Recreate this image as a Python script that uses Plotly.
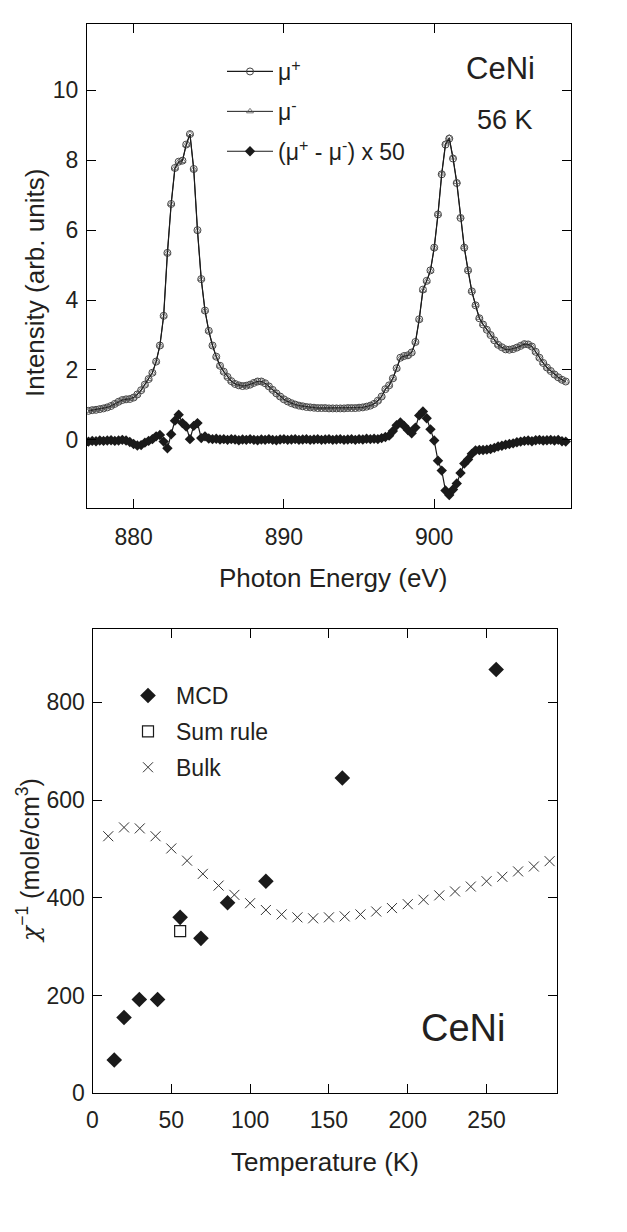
import plotly.graph_objects as go

# ---------------- Top panel data (CeNi XMCD, 56 K) ----------------
energy_ev = [
    877.00, 877.25, 877.50, 877.75, 878.00, 878.25, 878.50, 878.75,
    879.00, 879.25, 879.50, 879.75, 880.00, 880.25, 880.50, 880.75,
    881.00, 881.25, 881.50, 881.75, 882.00, 882.25, 882.50, 882.75,
    883.00, 883.25, 883.50, 883.75, 884.00, 884.25, 884.50, 884.75,
    885.00, 885.25, 885.50, 885.75, 886.00, 886.25, 886.50, 886.75,
    887.00, 887.25, 887.50, 887.75, 888.00, 888.25, 888.50, 888.75,
    889.00, 889.25, 889.50, 889.75, 890.00, 890.25, 890.50, 890.75,
    891.00, 891.25, 891.50, 891.75, 892.00, 892.25, 892.50, 892.75,
    893.00, 893.25, 893.50, 893.75, 894.00, 894.25, 894.50, 894.75,
    895.00, 895.25, 895.50, 895.75, 896.00, 896.25, 896.50, 896.75,
    897.00, 897.25, 897.50, 897.75, 898.00, 898.25, 898.50, 898.75,
    899.00, 899.25, 899.50, 899.75, 900.00, 900.25, 900.50, 900.75,
    901.00, 901.25, 901.50, 901.75, 902.00, 902.25, 902.50, 902.75,
    903.00, 903.25, 903.50, 903.75, 904.00, 904.25, 904.50, 904.75,
    905.00, 905.25, 905.50, 905.75, 906.00, 906.25, 906.50, 906.75,
    907.00, 907.25, 907.50, 907.75, 908.00, 908.25, 908.50, 908.75,
]

mu_plus = [
    0.83, 0.85, 0.86, 0.88, 0.90, 0.93, 0.97, 1.03,
    1.09, 1.14, 1.16, 1.17, 1.21, 1.30, 1.42, 1.58,
    1.74, 1.92, 2.24, 2.70, 3.55, 5.35, 6.75, 7.78,
    7.96, 7.99, 8.45, 8.75, 7.75, 6.00, 4.60, 3.70,
    3.12, 2.70, 2.38, 2.12, 1.95, 1.80, 1.68, 1.60,
    1.56, 1.54, 1.55, 1.58, 1.63, 1.67, 1.67, 1.62,
    1.53, 1.43, 1.33, 1.24, 1.16, 1.10, 1.05, 1.01,
    0.98, 0.96, 0.94, 0.93, 0.92, 0.91, 0.91, 0.91,
    0.90, 0.90, 0.90, 0.90, 0.90, 0.91, 0.91, 0.91,
    0.92, 0.93, 0.95, 0.98, 1.03, 1.12, 1.24, 1.45,
    1.56, 1.76, 2.05, 2.35, 2.40, 2.42, 2.50, 2.80,
    3.45, 4.30, 4.55, 4.85, 5.50, 6.45, 7.60, 8.45,
    8.62, 8.05, 7.35, 6.35, 5.50, 4.85, 4.25, 3.85,
    3.48, 3.30, 3.15, 3.00, 2.85, 2.72, 2.65, 2.59,
    2.58, 2.60, 2.64, 2.69, 2.74, 2.73, 2.67, 2.52,
    2.35, 2.20, 2.07, 1.97, 1.87, 1.79, 1.72, 1.67,
]

mu_minus = [
    0.83, 0.85, 0.86, 0.88, 0.90, 0.93, 0.97, 1.03,
    1.09, 1.14, 1.16, 1.17, 1.21, 1.30, 1.42, 1.58,
    1.74, 1.92, 2.24, 2.70, 3.55, 5.35, 6.75, 7.77,
    7.95, 7.98, 8.44, 8.75, 7.74, 5.99, 4.60, 3.70,
    3.12, 2.70, 2.38, 2.12, 1.95, 1.80, 1.68, 1.60,
    1.56, 1.54, 1.55, 1.58, 1.63, 1.67, 1.67, 1.62,
    1.53, 1.43, 1.33, 1.24, 1.16, 1.10, 1.05, 1.01,
    0.98, 0.96, 0.94, 0.93, 0.92, 0.91, 0.91, 0.91,
    0.90, 0.90, 0.90, 0.90, 0.90, 0.91, 0.91, 0.91,
    0.92, 0.93, 0.95, 0.98, 1.03, 1.12, 1.24, 1.45,
    1.56, 1.76, 2.04, 2.34, 2.39, 2.41, 2.50, 2.79,
    3.44, 4.28, 4.54, 4.84, 5.50, 6.46, 7.62, 8.48,
    8.65, 8.08, 7.38, 6.37, 5.51, 4.86, 4.26, 3.86,
    3.49, 3.31, 3.16, 3.01, 2.85, 2.72, 2.65, 2.59,
    2.58, 2.60, 2.64, 2.69, 2.74, 2.73, 2.67, 2.52,
    2.35, 2.20, 2.07, 1.97, 1.87, 1.79, 1.72, 1.67,
]

mcd_x50 = [
    -0.05, -0.03, -0.04, -0.02, -0.03, -0.02, -0.01, -0.03,
    -0.02, 0.00, -0.02, -0.06, -0.12, -0.16, -0.15, -0.08,
    -0.03, 0.02, 0.10, 0.14, -0.05, -0.24, 0.16, 0.55,
    0.72, 0.48, 0.38, 0.02, 0.40, 0.48, 0.05, 0.10,
    0.04, 0.02, 0.03, 0.01, 0.02, 0.00, 0.02, 0.01,
    -0.01, 0.01, 0.00, 0.02, 0.00, -0.01, 0.01, 0.00,
    0.02, 0.00, -0.01, 0.01, 0.02, 0.00, 0.01, 0.02,
    0.00, 0.01, 0.02, 0.00, 0.01, 0.02, 0.00, 0.01,
    0.02, 0.00, 0.01, 0.02, 0.00, 0.01, 0.02, 0.00,
    0.02, 0.01, 0.03, 0.02, 0.03, 0.02, 0.05, 0.08,
    0.12, 0.25, 0.42, 0.50, 0.40, 0.28, 0.19, 0.35,
    0.70, 0.81, 0.62, 0.30, -0.02, -0.60, -0.88, -1.45,
    -1.58, -1.42, -1.25, -0.95, -0.68, -0.56, -0.40, -0.30,
    -0.29, -0.29, -0.28, -0.26, -0.23, -0.19, -0.17, -0.14,
    -0.12, -0.10, -0.07, -0.05, -0.03, -0.02, -0.04, -0.01,
    0.00, -0.02, -0.01, 0.00, -0.02, 0.00, -0.04, -0.05,
]

# ---------------- Bottom panel data (inverse susceptibility) ----------------
mcd_temp = [13.8, 20.0, 29.7, 41.3, 55.6, 68.8, 85.7, 110.0, 158.5, 256.1]
mcd_chi_inv = [68, 155, 192, 192, 360, 317, 390, 434, 645, 867]

sum_rule_temp = [55.6]
sum_rule_chi_inv = [332]

bulk_temp = [10, 20, 30, 40, 50, 60, 70, 80, 90, 100, 110, 120, 130, 140, 150,
             160, 170, 180, 190, 200, 210, 220, 230, 240, 250, 260, 270, 280, 290]
bulk_chi_inv = [526, 544, 542, 526, 501, 476, 449, 425, 406, 389, 375, 366, 360, 358, 360,
                362, 366, 372, 379, 387, 396, 405, 413, 423, 434, 443, 454, 464, 475]

top_xticks = [880, 890, 900]
top_yticks = [0, 2, 4, 6, 8, 10]
bot_xticks = [0, 50, 100, 150, 200, 250]
bot_yticks = [0, 200, 400, 600, 800]

# ---------------- Figure ----------------
# the page body has an 8 px margin, so the figure is drawn 8 px in from the corner
OFF = 8
W, H = 627 - OFF, 1232 - OFF
FONT = "Liberation Sans, Arial, Helvetica, sans-serif"
TXT = "#231f20"

fig = go.Figure()

fig.add_trace(go.Scatter(
    x=energy_ev, y=mu_plus, mode="lines+markers", name="μ<sup>+</sup>",
    line=dict(color="#1a1a1a", width=1.2),
    marker=dict(symbol="circle-open", size=7, color="#444", line=dict(width=1)),
    xaxis="x", yaxis="y", legend="legend", legendgroup="a"))
fig.add_trace(go.Scatter(
    x=energy_ev, y=mu_minus, mode="lines+markers", name="μ<sup>-</sup>",
    line=dict(color="#1a1a1a", width=1.0),
    marker=dict(symbol="triangle-up-open", size=6, color="#555", line=dict(width=0.8)),
    xaxis="x", yaxis="y", legend="legend", legendgroup="b"))
fig.add_trace(go.Scatter(
    x=energy_ev, y=mcd_x50, mode="lines+markers", name="(μ<sup>+</sup> - μ<sup>-</sup>) x 50",
    line=dict(color="#1a1a1a", width=1.2),
    marker=dict(symbol="diamond", size=8, color="#1a1a1a"),
    xaxis="x", yaxis="y", legend="legend", legendgroup="c"))

fig.add_trace(go.Scatter(
    x=mcd_temp, y=mcd_chi_inv, mode="markers", name="MCD",
    marker=dict(symbol="diamond", size=12, color="#1a1a1a"),
    xaxis="x2", yaxis="y2", legend="legend2", legendgroup="d"))
fig.add_trace(go.Scatter(
    x=sum_rule_temp, y=sum_rule_chi_inv, mode="markers", name="Sum rule",
    marker=dict(symbol="square-open", size=11, color="#1a1a1a", line=dict(width=1.2)),
    xaxis="x2", yaxis="y2", legend="legend2", legendgroup="e"))
fig.add_trace(go.Scatter(
    x=bulk_temp, y=bulk_chi_inv, mode="markers", name="Bulk",
    marker=dict(symbol="x-thin", size=10, color="#333", line=dict(width=1, color="#333")),
    xaxis="x2", yaxis="y2", legend="legend2", legendgroup="f"))

axis_common = dict(
    showline=True, linecolor="black", linewidth=1.3, mirror="ticks",
    ticks="inside", ticklen=9, tickwidth=1.2, tickcolor="black",
    showgrid=False, zeroline=False, automargin=False,
    tickfont=dict(family=FONT, size=23, color=TXT),
)

def px_x(p):
    return (p - OFF) / W

def px_y(p):
    return 1 - (p - OFF) / H

fig.update_layout(
    width=W, height=H,
    margin=dict(l=0, r=0, t=0, b=0),
    paper_bgcolor="white", plot_bgcolor="white",
    font=dict(family=FONT, color=TXT),
    xaxis=dict(axis_common, domain=[px_x(87), px_x(571)], range=[876.9, 909.1],
               tickvals=top_xticks, anchor="y", ticklabelstandoff=8),
    yaxis=dict(axis_common, domain=[px_y(508), px_y(24)], range=[-1.95, 11.9],
               tickvals=top_yticks, anchor="x", ticklabelstandoff=3),
    xaxis2=dict(axis_common, domain=[px_x(92.5), px_x(556.7)], range=[0, 294.5],
                tickvals=bot_xticks, anchor="y2", ticklabelstandoff=6),
    yaxis2=dict(axis_common, domain=[px_y(1093.3), px_y(629)], range=[0, 950],
                tickvals=bot_yticks, anchor="x2", ticklabelstandoff=2),
    legend=dict(x=px_x(222), y=px_y(50), xanchor="left", yanchor="top",
                bgcolor="rgba(0,0,0,0)", borderwidth=0, itemwidth=46,
                tracegroupgap=7, font=dict(family=FONT, size=23, color=TXT)),
    legend2=dict(x=px_x(120), y=px_y(674), xanchor="left", yanchor="top",
                 bgcolor="rgba(0,0,0,0)", borderwidth=0, itemwidth=46,
                 tracegroupgap=3, font=dict(family=FONT, size=23, color=TXT)),
    showlegend=True,
)

chi = "<span style='font-family:DejaVu Serif;font-style:italic'>χ</span>"
annotations = [
    dict(text="Photon Energy (eV)", x=px_x(333), y=px_y(578), font=dict(size=26)),
    dict(text="Intensity (arb. units)", x=px_x(35), y=px_y(283), textangle=-90, font=dict(size=26)),
    dict(text="Temperature (K)", x=px_x(325), y=px_y(1162), font=dict(size=26)),
    dict(text=chi + "<sup>−1</sup> (mole/cm<sup>3</sup>)", x=px_x(28), y=px_y(861), textangle=-90,
         font=dict(size=25)),
    dict(text="CeNi", x=px_x(501), y=px_y(68), font=dict(size=31)),
    dict(text="56 K", x=px_x(505), y=px_y(120), font=dict(size=27)),
    dict(text="CeNi", x=px_x(463), y=px_y(1028), font=dict(size=38)),
]
for a in annotations:
    a.update(xref="paper", yref="paper", showarrow=False, xanchor="center", yanchor="middle")
    a["font"] = dict(family=FONT, color=TXT, size=a["font"]["size"])
fig.update_layout(annotations=annotations)

fig.write_html("out.html")
